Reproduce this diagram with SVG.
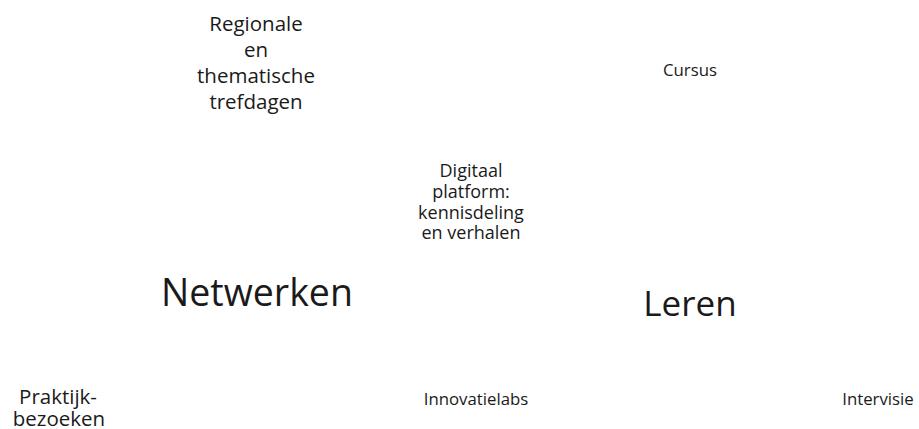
<svg xmlns="http://www.w3.org/2000/svg" width="919" height="429" viewBox="0 0 919 429">
<style>
text{font-family:"Open Sans","Noto Sans","Liberation Sans",sans-serif;fill:#1a1a1a;text-anchor:middle}
.s{font-size:16.8px}
.m{font-size:20.5px}
.d{font-size:18px}
.b{font-size:37.5px}
</style>
<rect width="919" height="429" fill="#fff"/>
<g id="trefdagen"><text class="m" x="256" y="31">Regionale</text><text class="m" x="256" y="57">en</text><text class="m" x="256" y="83">thematische</text><text class="m" x="256" y="109">trefdagen</text></g>
<g id="cursus"><text class="s" x="690" y="76">Cursus</text></g>
<g id="platform"><text class="d" x="471" y="177">Digitaal</text><text class="d" x="471" y="198">platform:</text><text class="d" x="471" y="218.5">kennisdeling</text><text class="d" x="471" y="239">en verhalen</text></g>
<g id="netwerken"><text class="b" x="257" y="306">Netwerken</text></g>
<g id="leren"><text class="b" x="690" y="316" style="font-size:35px">Leren</text></g>
<g id="praktijk"><text class="m" x="58" y="404">Praktijk-</text><text class="m" x="59" y="426">bezoeken</text></g>
<g id="innovatielabs"><text class="s" x="476" y="405">Innovatielabs</text></g>
<g id="intervisie"><text class="s" x="878" y="405">Intervisie</text></g>
<g id="connectors"></g>
</svg>
